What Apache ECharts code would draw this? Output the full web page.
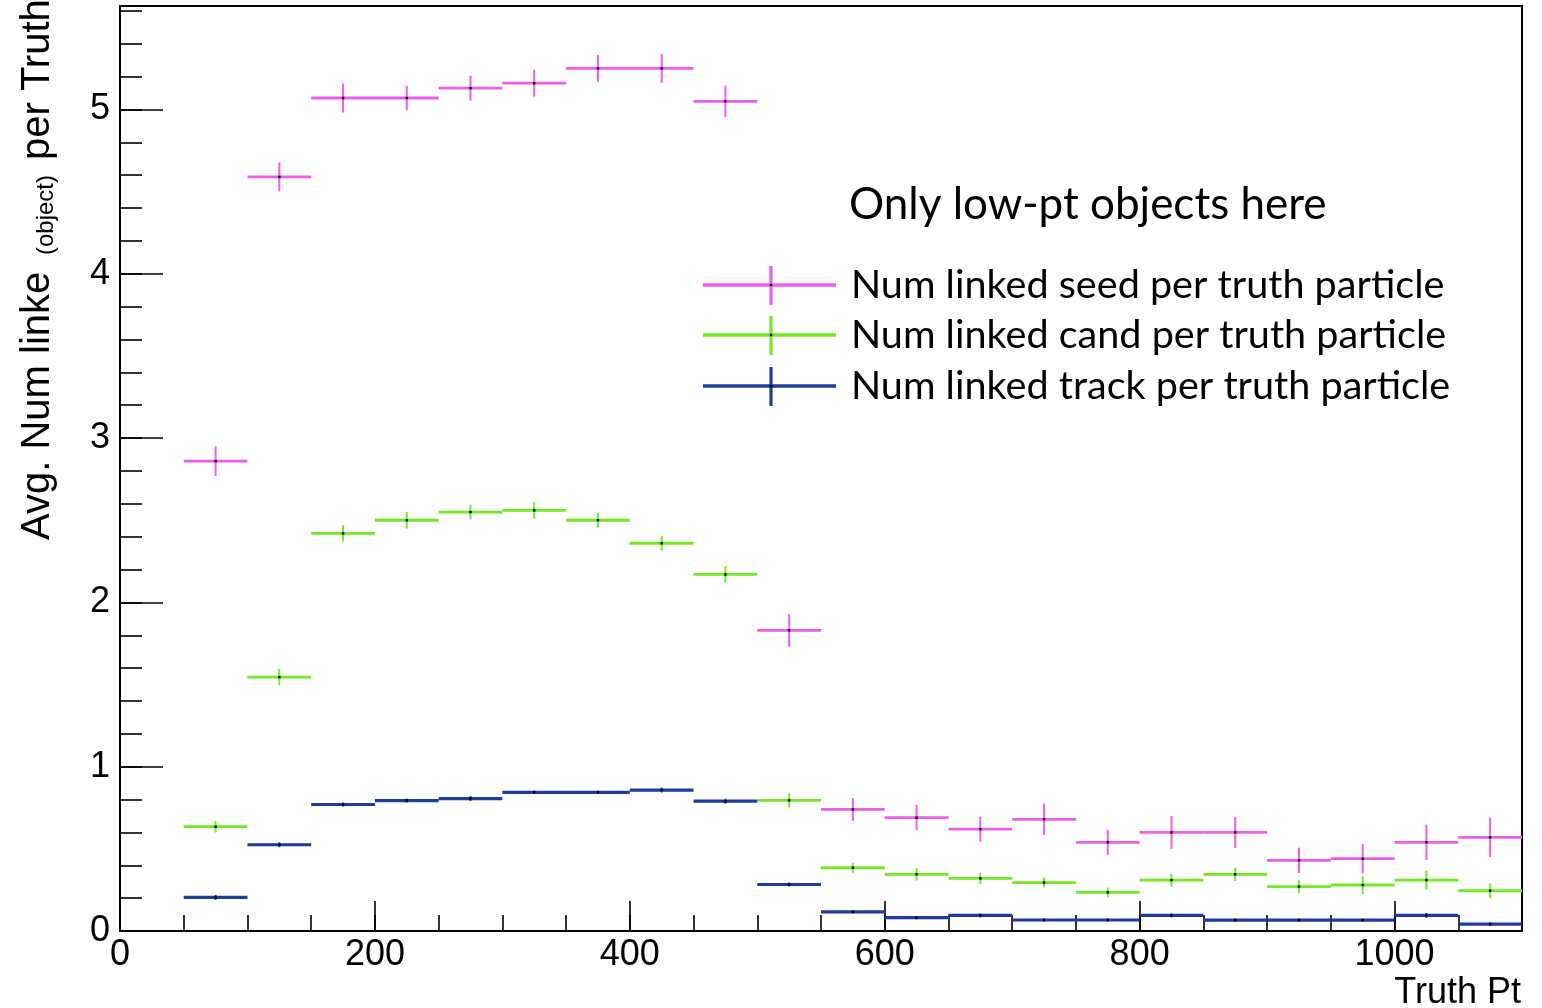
<!DOCTYPE html>
<html>
<head>
<meta charset="utf-8">
<script src="https://cdn.jsdelivr.net/npm/echarts@6/dist/echarts.min.js"></script>
<style>
html,body{margin:0;padding:0;background:#fff;}
#chart{width:1542px;height:1008px;}
</style>
</head>
<body>
<div id="chart"></div>
<script>
// ---- data ----
const binEdges = [50,100,150,200,250,300,350,400,450,500,550,600,650,700,750,800,850,900,950,1000,1050,1100];
const seedVals = [2.86,4.59,5.07,5.07,5.13,5.16,5.25,5.25,5.05,1.83,0.74,0.69,0.62,0.68,0.54,0.60,0.60,0.43,0.44,0.54,0.57];
const seedErr  = [0.09,0.088,0.088,0.074,0.076,0.082,0.081,0.088,0.096,0.10,0.069,0.077,0.076,0.096,0.077,0.10,0.095,0.077,0.089,0.108,0.12];
const candVals = [0.635,1.545,2.42,2.50,2.55,2.56,2.50,2.36,2.17,0.795,0.385,0.345,0.32,0.295,0.235,0.31,0.345,0.27,0.28,0.31,0.245];
const candErr  = [0.035,0.05,0.05,0.05,0.045,0.05,0.045,0.045,0.05,0.043,0.03,0.038,0.035,0.03,0.03,0.04,0.04,0.04,0.055,0.057,0.045];
const trackVals = [0.205,0.525,0.77,0.794,0.806,0.844,0.844,0.858,0.79,0.283,0.117,0.081,0.095,0.067,0.067,0.095,0.066,0.066,0.066,0.095,0.042];
const trackErr  = [0.015,0.015,0.012,0.012,0.015,0.01,0.01,0.015,0.015,0.012,0.01,0.01,0.012,0.01,0.01,0.012,0.01,0.01,0.01,0.015,0.012];
const legendNames = ['Num linked seed per truth particle','Num linked cand per truth particle','Num linked track per truth particle'];
const noteText = 'Only low-pt objects here';
const xTitle = 'Truth Pt';
const yTitleParts = ['Avg. Num linke', '(object)', 'per Truth'];

const colors = ['#ef5cef', '#72ea22', '#1c3c9e'];
const lineW = [2.8, 2.8, 3.2];

function buildData(vals, errs){
  return vals.map((v,i)=>[binEdges[i], binEdges[i+1], v, errs[i]]);
}

function makeRender(color, lw){
  return function(params, api){
    const lo = api.value(0), hi = api.value(1), v = api.value(2), e = api.value(3);
    const mid = (lo+hi)/2;
    const pL = api.coord([lo, v]), pR = api.coord([hi, v]);
    const pB = api.coord([mid, v-e]), pT = api.coord([mid, v+e]);
    return {
      type:'group',
      children:[
        {type:'line', shape:{x1:pL[0],y1:pL[1],x2:pR[0],y2:pR[1]}, style:{stroke:color,lineWidth:lw}},
        {type:'line', shape:{x1:pB[0],y1:pB[1],x2:pT[0],y2:pT[1]}, style:{stroke:color,lineWidth:2}},
        {type:'rect', shape:{x:pB[0]-1.2,y:pL[1]-1.2,width:2.4,height:2.4}, style:{fill:'#000'}}
      ]
    };
  };
}

const seriesData = [buildData(seedVals,seedErr), buildData(candVals,candErr), buildData(trackVals,trackErr)];

const chart = echarts.init(document.getElementById('chart'), null, {renderer:'canvas'});

const axisFont = 'Liberation Sans';
const legendGraphics = [];
const rowY = [285, 335, 386];
for (let i=0;i<3;i++){
  legendGraphics.push({type:'line', shape:{x1:703,y1:rowY[i],x2:836,y2:rowY[i]}, style:{stroke:colors[i],lineWidth:3.4}});
  legendGraphics.push({type:'line', shape:{x1:771,y1:rowY[i]-19,x2:771,y2:rowY[i]+20}, style:{stroke:colors[i],lineWidth:3.2}});
  legendGraphics.push({type:'rect', shape:{x:769.8,y:rowY[i]-1.2,width:2.4,height:2.4}, style:{fill:'#000'}});
  legendGraphics.push({type:'text', x:851, y:rowY[i], style:{text:legendNames[i], font:'39.6px Lato', fill:'#000', align:'left', verticalAlign:'middle'}});
}

const yMax = 5.63;

const option = {
  animation:false,
  backgroundColor:'#fff',
  grid:{left:120, right:20, top:6, bottom:77, show:true, borderColor:'#000', borderWidth:2, outerBoundsMode:'none', containLabel:false},
  xAxis:[
    {type:'value', min:0, max:1100, interval:200, position:'bottom',
     axisLine:{show:true, lineStyle:{color:'#000', width:2}},
     axisTick:{show:true, inside:true, length:30, lineStyle:{color:'#000', width:1.6}},
     axisLabel:{show:true, color:'#000', fontFamily:axisFont, fontSize:36, margin:6, showMaxLabel:false, formatter:v=>String(v)},
     splitLine:{show:false}},
    {type:'value', min:0, max:1100, interval:50, position:'bottom',
     axisLine:{show:false},
     axisTick:{show:true, inside:true, length:16, lineStyle:{color:'#000', width:1.6}},
     axisLabel:{show:false}, splitLine:{show:false}}
  ],
  yAxis:[
    {type:'value', min:0, max:yMax, interval:1, position:'left',
     axisLine:{show:true, lineStyle:{color:'#000', width:2}},
     axisTick:{show:true, inside:true, length:43, lineStyle:{color:'#000', width:1.6}},
     axisLabel:{show:true, color:'#000', fontFamily:axisFont, fontSize:36, margin:10, showMaxLabel:false, formatter:v=>String(v)},
     splitLine:{show:false}},
    {type:'value', min:0, max:yMax, interval:0.2, position:'left', offset:0,
     axisLine:{show:false},
     axisTick:{show:true, inside:true, length:22, lineStyle:{color:'#000', width:1.6}},
     axisLabel:{show:false}, splitLine:{show:false}}
  ],
  series:[0,1,2].map(i=>({
    type:'custom', name:legendNames[i], xAxisIndex:0, yAxisIndex:0,
    renderItem:makeRender(colors[i], lineW[i]),
    encode:{x:[0,1], y:2},
    data:seriesData[i], z:10+i
  })),
  graphic:[
    {type:'text', x:38, y:540, rotation:Math.PI/2, style:{text:yTitleParts[0], font:'40px "Liberation Sans"', fill:'#000', align:'left', verticalAlign:'middle'}},
    {type:'text', x:46, y:255, rotation:Math.PI/2, style:{text:yTitleParts[1], font:'24px "Liberation Sans"', fill:'#000', align:'left', verticalAlign:'middle'}},
    {type:'text', x:38, y:160, rotation:Math.PI/2, style:{text:yTitleParts[2], font:'40px "Liberation Sans"', fill:'#000', align:'left', verticalAlign:'middle'}},
    {type:'text', x:1521, y:993, style:{text:xTitle, font:'36px "Liberation Sans"', fill:'#000', align:'right', verticalAlign:'middle'}},
    {type:'text', x:849, y:205, style:{text:noteText, font:'44px Lato', fill:'#000', align:'left', verticalAlign:'middle'}}
  ].concat(legendGraphics)
};
chart.setOption(option);
</script>
</body>
</html>
